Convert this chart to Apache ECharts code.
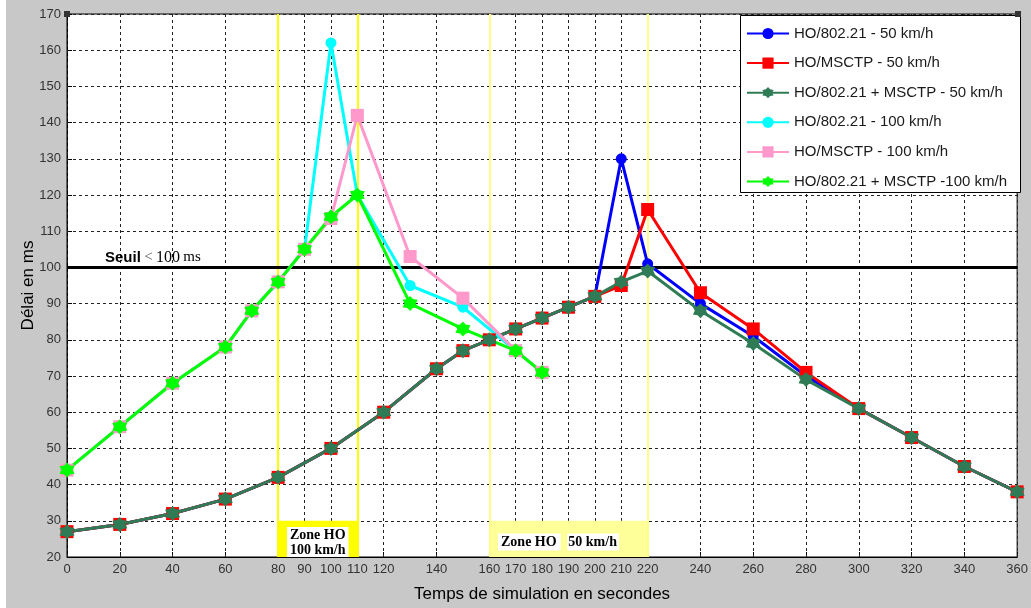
<!DOCTYPE html>
<html>
<head>
<meta charset="utf-8">
<script src="https://cdn.jsdelivr.net/npm/echarts/dist/echarts.min.js"></script>
<style>
html,body{margin:0;padding:0;background:#c8c8c8;}
#chart{width:1031px;height:608px;}
</style>
</head>
<body>
<div id="chart"></div>
<script>
// ---- Data ----
const x50 = [0,20,40,60,80,100,120,140,150,160,170,180,190,200,210,220,240,260,280,300,320,340,360];
const ho80221_50 = [27,29,32,36,42,50,60,72,77,80,83,86,89,92,130,101,90,81,70,61,53,45,38];
const homsctp_50 = [27,29,32,36,42,50,60,72,77,80,83,86,89,92,95,116,93,83,71,61,53,45,38];
const combo_50   = [27,29,32,36,42,50,60,72,77,80,83,86,89,92,96,99,88,79,69,61,53,45,38];

const x100 = [0,20,40,60,70,80,90,100,110,130,150,170,180];
const ho80221_100 = [44,56,68,78,88,96,105,162,120,95,89,77,71];
const homsctp_100 = [44,56,68,78,88,96,105,113.5,142,103,91.5,77,71];
const combo_100   = [44,56,68,78,88,96,105,114,120,90,83,77,71];

const xTicks = [0,20,40,60,80,90,100,110,120,140,160,170,180,190,200,210,220,240,260,280,300,320,340,360];
const seuil = 100;
const zone100 = [80,110];
const zone50 = [160,220];

const names = [
  'HO/802.21 - 50 km/h',
  'HO/MSCTP - 50 km/h',
  'HO/802.21 + MSCTP - 50 km/h',
  'HO/802.21 - 100 km/h',
  'HO/MSCTP - 100 km/h',
  'HO/802.21 + MSCTP -100 km/h'
];

// fat hexagram marker
const star = 'path://M50 0L67.3 20L96 25L84.6 50L96 75L67.3 80L50 100L32.7 80L4 75L15.4 50L4 25L32.7 20Z';

function pairs(xs, ys){ return xs.map((x,i)=>[x, ys[i]]); }

function mk(name, xs, ys, color, symbol, size){
  return {
    name: name, type: 'line', data: pairs(xs, ys),
    symbol: symbol, symbolSize: size,
    itemStyle: {color: color},
    lineStyle: {color: color, width: 3},
    z: 3, animation: false
  };
}

const serif = 'Times New Roman, Liberation Serif, serif';
const sans = 'Arial, Liberation Sans, sans-serif';

const chart = echarts.init(document.getElementById('chart'));
const option = {
  backgroundColor: '#c8c8c8',
  animation: false,
  grid: {left: 67, right: 13, top: 14, bottom: 46, show: true, backgroundColor: '#fff', borderColor: '#000', borderWidth: 1},
  xAxis: {
    type: 'value', min: 0, max: 360, interval: 10,
    name: 'Temps de simulation en secondes', nameLocation: 'middle', nameGap: 29, nameMoveOverlap: false,
    nameTextStyle: {fontFamily: sans, fontSize: 17, color: '#000'},
    axisLine: {lineStyle: {color: '#000', width: 1}},
    axisTick: {inside: true, length: 5, customValues: xTicks, lineStyle: {color: '#000'}},
    axisLabel: {customValues: xTicks, fontFamily: sans, fontSize: 13, color: '#333', margin: 6},
    splitLine: {show: false}
  },
  yAxis: {
    type: 'value', min: 20, max: 170, interval: 10,
    name: 'Délai en ms', nameLocation: 'middle', nameGap: 30, nameRotate: 90, nameMoveOverlap: false,
    nameTextStyle: {fontFamily: sans, fontSize: 17, color: '#000'},
    axisLine: {show: true, lineStyle: {color: '#000', width: 1}},
    axisTick: {show: true, inside: true, length: 5, lineStyle: {color: '#000'}},
    axisLabel: {fontFamily: sans, fontSize: 13, color: '#333', margin: 6},
    splitLine: {show: true, lineStyle: {color: '#222', type: [3,3], width: 1}}
  },
  legend: {
    data: names, orient: 'vertical', left: 741, top: 21,
    itemWidth: 42, itemHeight: 14, itemGap: 14.6,
    textStyle: {fontFamily: sans, fontSize: 15, color: '#1a1a1a'},
    z: 20
  },
  graphic: [
    {type: 'rect', left: 740, top: 15, shape: {width: 280, height: 177}, style: {fill: '#fff', stroke: '#000', lineWidth: 1}, z: 10},
    {type: 'rect', left: 0, top: 0, shape: {width: 6, height: 608}, style: {fill: '#fff'}, z: 0},
    {type: 'rect', left: 64, top: 11, shape: {width: 6, height: 6}, style: {fill: '#333'}, z: 10},
    {type: 'rect', left: 1015, top: 11, shape: {width: 6, height: 6}, style: {fill: '#333'}, z: 10}
  ],
  series: [
    {
      // vertical dashed grid lines at the labelled x ticks
      name: '_grid', type: 'line', data: [], silent: true,
      markLine: {
        silent: true, symbol: ['none','none'], animation: false, z: 0.5,
        label: {show: false},
        lineStyle: {color: '#222', type: [3,3], width: 1},
        data: xTicks.map(v => ({xAxis: v}))
      }
    },
    {
      name: '_ann', type: 'line', data: [], silent: true,
      markArea: {
        silent: true, z: 1,
        data: [
          [{xAxis: zone100[0], yAxis: 20, itemStyle: {color: '#ffff00'},
            label: {show: true, position: 'inside', offset: [0, 3], formatter: '{a|Zone HO\n100 km/h}',
              rich: {a: {fontFamily: serif, fontWeight: 'bold', fontSize: 14, lineHeight: 15, color: '#000', backgroundColor: '#fff', padding: [1,3,0,3]}}}},
           {xAxis: zone100[1], yAxis: 30}],
          [{xAxis: zone50[0], yAxis: 20, itemStyle: {color: '#ffff99'},
            label: {show: true, position: 'inside', offset: [-10, 3], formatter: '{a|Zone HO}  {b|50 km/h}',
              rich: {
                a: {fontFamily: serif, fontWeight: 'bold', fontSize: 14, color: '#000', backgroundColor: '#fff', padding: [2,4,1,3]},
                b: {fontFamily: serif, fontWeight: 'bold', fontSize: 14, color: '#000', backgroundColor: '#fff', padding: [2,2,1,1]}
              }}},
           {xAxis: zone50[1], yAxis: 30}]
        ]
      },
      markLine: {
        silent: true, symbol: ['none','none'], animation: false, z: 2,
        label: {show: false},
        data: [
          {xAxis: zone100[0], lineStyle: {color: '#ffff00', width: 2, type: 'solid'}},
          {xAxis: zone100[1], lineStyle: {color: '#ffff00', width: 2, type: 'solid'}},
          {xAxis: zone50[0], lineStyle: {color: '#ffff88', width: 2, type: 'solid'}},
          {xAxis: zone50[1], lineStyle: {color: '#ffff88', width: 2, type: 'solid'}},
          {yAxis: seuil, lineStyle: {color: '#000', width: 3, type: 'solid'},
           label: {show: true, position: 'insideStartTop', distance: [38, 2],
             formatter: '{s|Seuil} {l|<} {n|100} {m|ms}',
             rich: {
               s: {fontFamily: sans, fontWeight: 'bold', fontSize: 15, color: '#000'},
               l: {fontFamily: serif, fontSize: 15, color: '#555'},
               n: {fontFamily: serif, fontSize: 16, color: '#000'},
               m: {fontFamily: serif, fontSize: 15, color: '#000'}
             }}}
        ]
      }
    },
    mk(names[0], x50, ho80221_50, '#0000ff', 'circle', 11),
    mk(names[1], x50, homsctp_50, '#ff0000', 'rect', 13),
    mk(names[2], x50, combo_50, '#2e7b55', star, 15),
    mk(names[3], x100, ho80221_100, '#00ffff', 'circle', 11),
    mk(names[4], x100, homsctp_100, '#ff99cc', 'rect', 13),
    mk(names[5], x100, combo_100, '#00ff00', star, 15)
  ]
};
chart.setOption(option);
</script>
</body>
</html>
